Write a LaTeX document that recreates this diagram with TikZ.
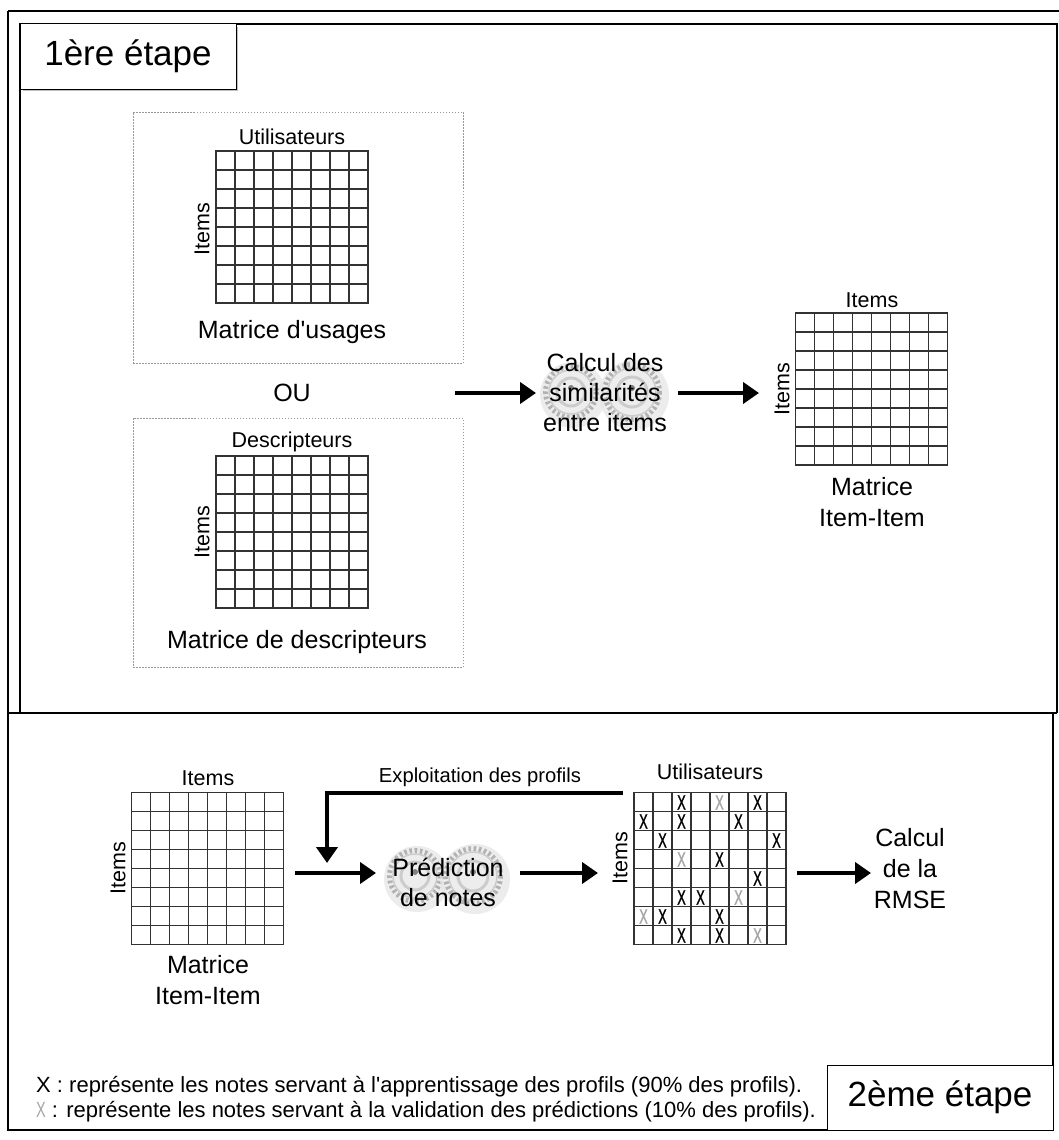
\documentclass[tikz,border=0pt]{standalone}
\usepackage{fontspec}
\setmainfont{Liberation Sans}
\newfontfamily\legfont{Liberation Sans}
\newfontfamily\xfont[FakeBold=1.2]{Liberation Sans}
\usetikzlibrary{arrows.meta,calc}
\tikzset{
  gridbox/.style={draw=black!80,line width=1.4pt,minimum size=152pt,inner sep=0pt,outer sep=0pt},
  gridline/.style={draw=black!80,line width=1.3pt},
  dotbox/.style={draw=black!40,line width=1pt,dash pattern=on 1.5pt off 1.5pt},
  bigarrow/.style={line width=4.5pt,-{Triangle[length=16pt,width=21pt]}},
  lbl/.style={inner sep=0pt,font=\fontsize{21.5}{24}\selectfont},
  captxt/.style={inner sep=0pt,align=center,font=\fontsize{25}{30}\selectfont},
  stagebox/.style={draw=black,line width=1pt,fill=white,inner sep=0pt,font=\fontsize{35}{38}\selectfont},
  xmark/.style={inner sep=0pt,font=\xfont\fontsize{21}{21}\selectfont},
  frameline/.style={draw=black,line width=1.4pt},
}
\newcommand{\mgrid}[3]{%
  \node[gridbox] (#1) at (#2,#3) {};
  \foreach \k in {1,...,7}{%
    \draw[gridline] ($(#1.north west)!\k/8!(#1.north east)$) -- ($(#1.south west)!\k/8!(#1.south east)$);
    \draw[gridline] ($(#1.north west)!\k/8!(#1.south west)$) -- ($(#1.north east)!\k/8!(#1.south east)$);
  }}
\newcommand{\gear}[3]{% x y r
  \fill[black!10,opacity=0.7] (#1+2,#2+3) circle (#3+5);
  \fill[black!7] (#1,#2) circle (#3);
  \draw[black!30,line width=5pt,dash pattern=on 2.6pt off 2.6pt] (#1,#2) circle (#3-2.5);
  \draw[black!20,line width=1.5pt] (#1,#2) circle (#3-6);
  \draw[black!20,line width=3pt] (#1,#2) circle (0.5*#3);
  \fill[black!50] (#1,#2-4) circle (3);
}
\newcommand{\xm}[3]{% row col color
  \node[xmark,text=#3] at ($(m5.north west)+(9.5+19*#2,10+19*#1)$) {\scalebox{0.62}[1]{X}};
}
\begin{document}
\begin{tikzpicture}[x=1pt,y=-1pt]
\useasboundingbox (0,0) rectangle (1059,1140);
\fill[white] (0,0) rectangle (1059,1140);
% frames
\draw[line width=2.2pt] (8,11) -- (1059,11);
\draw[frameline] (8,11) -- (8,1130) -- (1053,1130) -- (1053,713);
\draw[frameline] (20,713) -- (20,24) -- (1057,24) -- (1057,713);
\draw[frameline] (8,713) -- (1057,713);
% stage labels
\fill[black!25] (23,27) rectangle (238,91);
\node[stagebox,minimum width=216pt,minimum height=65pt] (s1) at (128,56.5) {1ère étape};
\node[stagebox,minimum width=226pt,minimum height=65pt] (s2) at (940,1097.5) {2ème étape};
% dotted boxes
\node[dotbox,minimum width=330pt,minimum height=251pt,inner sep=0pt] (b1) at (298,237.5) {};
\node[dotbox,minimum width=330pt,minimum height=249pt,inner sep=0pt] (b2) at (298,542.5) {};
% stage 1 matrices
\mgrid{m1}{292}{227}
\node[lbl] (u1) at (292,137) {Utilisateurs};
\node[lbl,rotate=90] (i1) at (202,229) {Items};
\node[captxt] (c1) at (292,332) {Matrice d\textquotesingle usages};
\node[captxt] (ou) at (292,393) {OU};
\mgrid{m2}{292}{532}
\node[lbl] (d2) at (292,442) {Descripteurs};
\node[lbl,rotate=90] (i2) at (202,532) {Items};
\node[captxt] (c2) at (297,642) {Matrice de descripteurs};
% gears + calc
\gear{571}{392}{28}
\gear{632}{392}{30}
\node[captxt] (calc) at (605,393) {Calcul des\\similarités\\entre items};
\coordinate (a1s) at (455,393);
\coordinate (a1e) at (536,393);
\draw[bigarrow] (a1s) -- (a1e);
\coordinate (a2s) at (678,393);
\coordinate (a2e) at (759,393);
\draw[bigarrow] (a2s) -- (a2e);
\mgrid{m3}{871.5}{389}
\node[lbl] (it3) at (872,300) {Items};
\node[lbl,rotate=90] (i3) at (782,389) {Items};
\node[captxt,font=\fontsize{25}{31}\selectfont] (c3) at (872,502) {Matrice\\Item-Item};
% stage 2
\mgrid{m4}{207.5}{868.5}
\node[lbl] (it4) at (208,778) {Items};
\node[lbl,rotate=90] (i4) at (118,868) {Items};
\node[captxt,font=\fontsize{25}{31}\selectfont] (c4) at (208,980) {Matrice\\Item-Item};
\coordinate (a3s) at (295,873);
\coordinate (a3e) at (376,873);
\draw[bigarrow] (a3s) -- (a3e);
\gear{415}{876}{28}
\gear{473}{876}{30}
\node[captxt] (pred) at (448,882) {Prédiction\\de notes};
\coordinate (a4s) at (520,873);
\coordinate (a4e) at (598,873);
\draw[bigarrow] (a4s) -- (a4e);
\mgrid{m5}{710}{868.5}
\node[lbl] (u5) at (710,772) {Utilisateurs};
\node[lbl,rotate=90] (i5) at (620,858) {Items};
\coordinate (fbs) at (623,793);
\coordinate (fbe) at (327,863);
\draw[line width=4.5pt,-{Triangle[length=16pt,width=21pt]}] (fbs) -| (fbe);
\node[lbl,font=\fontsize{20.2}{22}\selectfont] (expl) at (480,777) {Exploitation des profils};
\coordinate (a5s) at (797,873);
\coordinate (a5e) at (871,873);
\draw[bigarrow] (a5s) -- (a5e);
\node[captxt,font=\fontsize{25}{31}\selectfont] (rmse) at (910,869) {Calcul\\de la\\RMSE};
% X marks
\xm{0}{2}{black}\xm{0}{4}{black!35}\xm{0}{6}{black}
\xm{1}{0}{black}\xm{1}{2}{black}\xm{1}{5}{black}
\xm{2}{1}{black}\xm{2}{7}{black}
\xm{3}{2}{black!35}\xm{3}{4}{black}
\xm{4}{6}{black}
\xm{5}{2}{black}\xm{5}{3}{black}\xm{5}{5}{black!35}
\xm{6}{0}{black!35}\xm{6}{1}{black}\xm{6}{4}{black}
\xm{7}{2}{black}\xm{7}{4}{black}\xm{7}{6}{black!35}
% legend
\node[anchor=west,inner sep=0pt,font=\legfont\fontsize{22}{24}\selectfont] (leg1) at (36,1087) {X : représente les notes servant à l'apprentissage des profils (90\% des profils).};
\node[anchor=west,inner sep=0pt,font=\legfont\fontsize{22}{24}\selectfont] (leg2) at (36,1112) {\textcolor{black!35}{\scalebox{0.66}[1]{X}} : représente les notes servant à la validation des prédictions (10\% des profils).};
\end{tikzpicture}
\end{document}
